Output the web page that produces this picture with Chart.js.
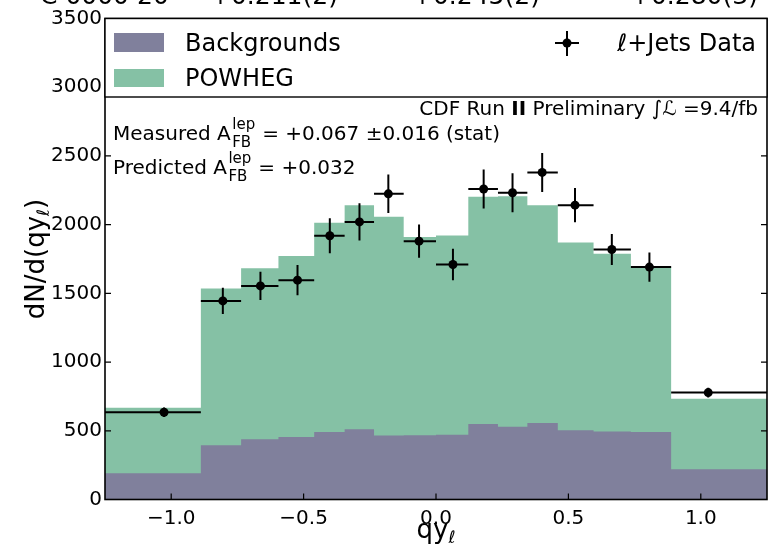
<!DOCTYPE html>
<html><head><meta charset="utf-8">
<script src="https://cdn.jsdelivr.net/npm/chart.js@4"></script>
<style>html,body{margin:0;padding:0;background:#fff}#wrap{width:768px;height:547px}</style>
</head><body><div id="wrap"><canvas id="c" width="768" height="547"></canvas></div>
<script>
// ---- data ----
const binEdges    = [-1.5, -0.888, -0.736, -0.595, -0.460, -0.345, -0.234, -0.122, 0.0, 0.122, 0.234, 0.345, 0.460, 0.595, 0.736, 0.888, 1.5];
const backgrounds = [191, 395, 438, 455, 491, 511, 465, 468, 472, 550, 530, 557, 504, 494, 491, 220];
const powhegTotal = [668, 1535, 1683, 1771, 2013, 2142, 2057, 1910, 1921, 2203, 2207, 2142, 1870, 1788, 1695, 734];
const dataX   = [-1.027, -0.805, -0.663, -0.523, -0.401, -0.289, -0.180, -0.064, 0.064, 0.180, 0.289, 0.401, 0.525, 0.664, 0.806, 1.028];
const dataY   = [635, 1445, 1554, 1596, 1919, 2020, 2224, 1880, 1710, 2259, 2232, 2380, 2142, 1819, 1691, 778];
const dataErr = [35, 95, 103, 110, 128, 135, 140, 121, 115, 142, 142, 142, 125, 113, 106, 35];
const xTicks = [-1.0, -0.5, 0.0, 0.5, 1.0];
const yTicks = [0, 500, 1000, 1500, 2000, 2500, 3000, 3500];
const topFragments = ["C 0000 20", "+0.211(2)", "+0.245(2)", "+0.280(3)"];

const F = "'DejaVu Sans', sans-serif";
const PURPLE = '#80809c', GREEN = '#85c1a5';

function stepData(edges, vals) {
  const pts = vals.map((v, i) => ({x: edges[i], y: v}));
  pts.push({x: edges[edges.length - 1], y: vals[vals.length - 1]});
  return pts;
}

const custom = {
  id: 'custom',
  beforeDraw(chart) {
    const c = chart.ctx; c.save(); c.fillStyle = '#fff'; c.fillRect(0, 0, chart.width, chart.height); c.restore();
  },
  afterDatasetsDraw(chart) {
    const c = chart.ctx, xs = chart.scales.x, ys = chart.scales.y, a = chart.chartArea;
    // error bars
    c.save();
    c.beginPath(); c.rect(a.left, a.top, a.right - a.left, a.bottom - a.top); c.clip();
    c.strokeStyle = '#000'; c.lineWidth = 2;
    dataX.forEach((x, i) => {
      const px = xs.getPixelForValue(x), py = ys.getPixelForValue(dataY[i]);
      const x0 = xs.getPixelForValue(binEdges[i]), x1 = xs.getPixelForValue(binEdges[i + 1]);
      const y0 = ys.getPixelForValue(dataY[i] - dataErr[i]), y1 = ys.getPixelForValue(dataY[i] + dataErr[i]);
      c.beginPath(); c.moveTo(x0, py); c.lineTo(x1, py); c.moveTo(px, y0); c.lineTo(px, y1); c.stroke();
    });
    c.restore();

    // inward ticks
    c.save();
    c.strokeStyle = '#000'; c.lineWidth = 1.2;
    yTicks.forEach(v => {
      const py = ys.getPixelForValue(v);
      c.beginPath(); c.moveTo(a.left, py); c.lineTo(a.left + 6, py);
      c.moveTo(a.right, py); c.lineTo(a.right - 6, py); c.stroke();
    });
    xTicks.forEach(v => {
      const px = xs.getPixelForValue(v);
      c.beginPath(); c.moveTo(px, a.bottom); c.lineTo(px, a.bottom - 6);
      c.moveTo(px, a.top); c.lineTo(px, a.top + 6); c.stroke();
    });
    // frame
    c.lineWidth = 1.6;
    c.strokeRect(a.left, a.top, a.right - a.left, a.bottom - a.top);

    // legend box
    const lb = 97;
    c.fillStyle = '#fff';
    c.fillRect(a.left, a.top, a.right - a.left, lb - a.top);
    c.lineWidth = 1.4;
    c.strokeRect(a.left, a.top, a.right - a.left, lb - a.top);
    c.fillStyle = PURPLE; c.fillRect(114, 33, 50, 19);
    c.fillStyle = GREEN; c.fillRect(114, 69, 50, 18);
    c.fillStyle = '#000'; c.font = '24px ' + F; c.textBaseline = 'alphabetic'; c.textAlign = 'left';
    c.fillText('Backgrounds', 185, 51);
    c.fillText('POWHEG', 185, 86);
    c.textAlign = 'right';
    c.fillText('\u2113+Jets Data', 756, 51);
    // legend data marker
    c.lineWidth = 2;
    c.beginPath(); c.moveTo(567, 31); c.lineTo(567, 56); c.moveTo(555, 43); c.lineTo(579, 43); c.stroke();
    c.beginPath(); c.arc(567, 43, 4.5, 0, Math.PI * 2); c.fill();

    // annotations
    c.textAlign = 'left';
    const f20 = '20px ' + F;
    const parts = [['CDF Run ', f20], ['II', 'bold 20px ' + F], [' Preliminary \u222B\u2112 =9.4/fb', f20]];
    let tw = 0; parts.forEach(p => { c.font = p[1]; tw += c.measureText(p[0]).width; });
    let xx = 758 - tw;
    parts.forEach(p => { c.font = p[1]; c.fillText(p[0], xx, 115); xx += c.measureText(p[0]).width; });

    function asym(prefix, rest, base) {
      c.font = f20;
      let x = 113;
      c.fillText(prefix, x, base); x += c.measureText(prefix).width;
      c.font = '15px ' + F;
      const w1 = c.measureText('lep').width, w2 = c.measureText('FB').width;
      c.fillText('lep', x + 1.5, base - 11);
      c.fillText('FB', x + 1.5, base + 7);
      x += Math.max(w1, w2) + 1.5 + 7;
      c.font = f20;
      c.fillText(rest, x, base);
    }
    asym('Measured A', '= +0.067 \u00B10.016 (stat)', 140);
    asym('Predicted A', '= +0.032', 174);

    // clipped title fragments at very top
    c.font = '25px ' + F;
    const fx = [40, 210, 412, 630];
    topFragments.forEach((t, i) => c.fillText(t, fx[i], 4));

    // axis titles
    c.font = '26px ' + F;
    const wq = c.measureText('qy').width;
    c.font = '17px ' + F;
    const wl = c.measureText('\u2113').width;
    let sx = 436 - (wq + wl) / 2;
    c.font = '26px ' + F; c.fillText('qy', sx, 538);
    c.font = 'italic 17px ' + F; c.fillText('\u2113', sx + wq, 543);

    c.save();
    c.translate(34, 259); c.rotate(-Math.PI / 2);
    c.font = '26px ' + F;
    const w1 = c.measureText('dN/d(qy').width, w3 = c.measureText(')').width;
    c.font = '17px ' + F;
    const w2 = c.measureText('\u2113').width;
    let rx = -(w1 + w2 + w3) / 2;
    c.font = '26px ' + F; c.fillText('dN/d(qy', rx, 10); rx += w1;
    c.font = 'italic 17px ' + F; c.fillText('\u2113', rx, 15); rx += w2;
    c.font = '26px ' + F; c.fillText(')', rx, 10);
    c.restore();
    c.restore();
  }
};

new Chart(document.getElementById('c'), {
  type: 'line',
  data: {
    datasets: [
      { label: 'Data', type: 'scatter', data: dataX.map((x, i) => ({x, y: dataY[i]})),
        pointRadius: 4.5, pointHoverRadius: 4.5, backgroundColor: '#000', borderWidth: 0, showLine: false, order: 0 },
      { label: 'Backgrounds', data: stepData(binEdges, backgrounds), stepped: true, fill: 'origin',
        backgroundColor: PURPLE, borderWidth: 0, pointRadius: 0, order: 1 },
      { label: 'POWHEG', data: stepData(binEdges, powhegTotal), stepped: true, fill: 'origin',
        backgroundColor: GREEN, borderWidth: 0, pointRadius: 0, order: 2 }
    ]
  },
  options: {
    responsive: false, animation: false, devicePixelRatio: 1,
    layout: { autoPadding: false, padding: { top: 18.5, right: 1, left: 0, bottom: 0 } },
    plugins: { legend: { display: false }, tooltip: { enabled: false } },
    scales: {
      x: { type: 'linear', min: -1.25, max: 1.25,
        afterBuildTicks: s => { s.ticks = xTicks.map(v => ({value: v})); },
        afterFit: s => { s.height = 47.5; s.paddingLeft = 0; s.paddingRight = 0; },
        grid: { display: false, drawTicks: false }, border: { display: false },
        ticks: { font: { family: F, size: 20 }, color: '#000', padding: 7, maxRotation: 0,
          callback: v => v.toFixed(1).replace('-', '\u2212') } },
      y: { type: 'linear', min: 0, max: 3500,
        afterBuildTicks: s => { s.ticks = yTicks.map(v => ({value: v})); },
        afterFit: s => { s.width = 105; s.paddingTop = 0; s.paddingBottom = 0; },
        grid: { display: false, drawTicks: false }, border: { display: false },
        ticks: { font: { family: F, size: 20 }, color: '#000', padding: 3, callback: v => String(v) } }
    }
  },
  plugins: [custom]
});
</script></body></html>
